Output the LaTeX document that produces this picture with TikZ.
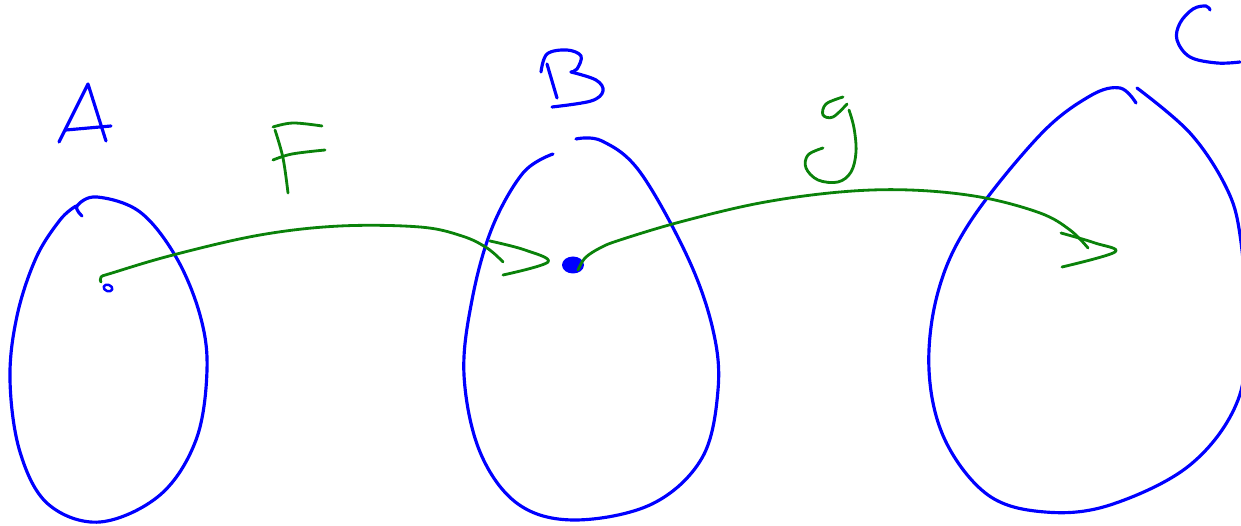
\documentclass[tikz,border=0pt]{standalone}
\definecolor{inkblue}{RGB}{0,0,255}
\definecolor{inkgreen}{RGB}{10,130,10}
\tikzset{
  blueink/.style={draw=inkblue, line width=1.8pt, line cap=round, line join=round},
  greenink/.style={draw=inkgreen, line width=1.6pt, line cap=round, line join=round},
}
\begin{document}
\begin{tikzpicture}[x=0.02cm,y=-0.02cm]
\useasboundingbox (0,0) rectangle (1241,526);
\clip (0,0) rectangle (1241,526);
% named points
\coordinate (a) at (108,288);
\coordinate (b) at (573,265);
\coordinate (fend) at (503,262);
\coordinate (gend) at (1088,248);

% Set A
\draw[blueink] plot[smooth, tension=0.6] coordinates {(82,216) (77,206) (97,197) (140,212) (176,257) (200,315) (207,370) (196,440) (160,495) (100,522) (48,504) (20,452) (10,380) (17,316) (36,258) (60,220) (76,206)};
% label A
\draw[blueink] (59,142) -- (88,84) -- (106,141);
\draw[blueink] (66,130) -- (111,126);
% small circle in A
\draw[blueink, line width=1.4pt, rotate around={-20:(a)}] (a) ellipse (4.5 and 3.2);

% Set B
\draw[blueink] plot[smooth, tension=0.6] coordinates {(576,139) (602,141) (640,172) (688,258) (713,330) (718,390) (702,458) (652,504) (575,520) (518,504) (480,452) (464,375) (472,300) (492,228) (523,173) (553,154)};
% label B
\draw[blueink] (547,64) -- (557,98);
\draw[blueink] plot[smooth, tension=0.6] coordinates {(541,72) (547,54) (567,50) (581,56) (577,69) (571,72)};
\draw[blueink] plot[smooth, tension=0.6] coordinates {(571,72) (596,80) (603,91) (591,101) (552,107)};
% dot in B
\fill[inkblue] (b) ellipse (11 and 8.5);

% Set C
\draw[blueink] plot[smooth, tension=0.6] coordinates {(1137,88) (1190,133) (1226,187) (1240,235) (1246,320) (1238,400) (1190,465) (1110,505) (1045,512) (988,495) (945,440) (929,370) (938,292) (970,222) (1040,135) (1090,96) (1120,88) (1136,103)};
% label C
\draw[blueink] plot[smooth, tension=0.6] coordinates {(1210,10) (1206,6) (1193,9) (1180,23) (1177,40) (1190,57) (1217,63) (1240,62)};

% arrow f
\draw[greenink] plot[smooth, tension=0.6] coordinates {(101,282) (101,277) (112,273) (173,255) (260,235) (340,226) (420,227) (462,236) (487,248) (503,262)};
\draw[greenink] plot[smooth, tension=0.6] coordinates {(490,241) (525,250) (548,262) (503,275)};
% label F
\draw[greenink] plot[smooth, tension=0.6] coordinates {(273,127) (293,123) (322,126)};
\draw[greenink] plot[smooth, tension=0.6] coordinates {(275,130) (283,158) (288,193)};
\draw[greenink] plot[smooth, tension=0.6] coordinates {(273,160) (292,154) (325,150)};

% arrow g
\draw[greenink] plot[smooth, tension=0.6] coordinates {(578,270) (585,258) (600,248) (620,240) (680,222) (760,203) (840,192) (910,190) (980,197) (1040,213) (1070,230) (1088,248)};
\draw[greenink] plot[smooth, tension=0.6] coordinates {(1061,233) (1095,243) (1115,252) (1062,267)};
% label g
\draw[greenink] plot[smooth, tension=0.6] coordinates {(843,97) (826,104) (823,115) (833,117) (847,104)};
\draw[greenink] plot[smooth, tension=0.6] coordinates {(849,110) (854,128) (856,152) (851,172) (838,182) (818,180) (806,168) (808,155) (823,148)};
\end{tikzpicture}
\end{document}
